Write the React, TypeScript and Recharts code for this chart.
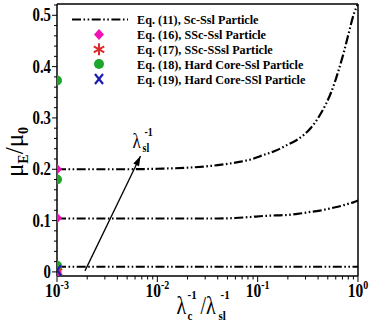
import { ComposedChart, Line, Scatter, XAxis, YAxis } from 'recharts'

// curves (x is log scale)
const curveX = [0.001, 0.002, 0.005, 0.01, 0.02, 0.04, 0.06, 0.085, 0.115, 0.15, 0.2, 0.25, 0.34, 0.43, 0.54, 0.63, 0.72, 0.81, 0.91, 1]
const upperCurve = [0.2, 0.2, 0.2, 0.201, 0.203, 0.208, 0.213, 0.219, 0.228, 0.236, 0.248, 0.258, 0.281, 0.31, 0.35, 0.388, 0.427, 0.466, 0.503, 0.522]
const middleCurve = [0.104, 0.104, 0.104, 0.104, 0.104, 0.104, 0.105, 0.107, 0.109, 0.11, 0.111, 0.113, 0.117, 0.12, 0.124, 0.127, 0.13, 0.133, 0.136, 0.139]
const lowerCurve = [0.01, 0.01, 0.01, 0.01, 0.01, 0.01, 0.01, 0.01, 0.01, 0.01, 0.01, 0.01, 0.01, 0.01, 0.01, 0.01, 0.01, 0.01, 0.01, 0.01]

const markerX = 0.001
const diamondY = [0.2, 0.105, 0.0]
const asteriskY = [0.0]
const circleY = [0.373, 0.18, 0.012]
const crossY = [0.003]

const arrowX = [0.0019, 0.0068]
const arrowY = [0.002, 0.226]

const xMajor = [0.001, 0.01, 0.1, 1]
const xExp = ['-3', '-2', '-1', '0']
const xMinor = [0.002, 0.003, 0.004, 0.005, 0.006, 0.007, 0.008, 0.009, 0.02, 0.03, 0.04, 0.05, 0.06, 0.07, 0.08, 0.09, 0.2, 0.3, 0.4, 0.5, 0.6, 0.7, 0.8, 0.9]
const yMajor = [0, 0.1, 0.2, 0.3, 0.4, 0.5]
const yLabels = ['0', '0.1', '0.2', '0.3', '0.4', '0.5']
const yMinor = [0.02, 0.04, 0.06, 0.08, 0.12, 0.14, 0.16, 0.18, 0.22, 0.24, 0.26, 0.28, 0.32, 0.34, 0.36, 0.38, 0.42, 0.44, 0.46, 0.48, 0.52]

const legendLabels = [
  'Eq. (11), Sc-Ssl Particle',
  'Eq. (16), SSc-Ssl Particle',
  'Eq. (17), SSc-SSsl Particle',
  'Eq. (18), Hard Core-Ssl Particle',
  'Eq. (19), Hard Core-SSl Particle',
]

const SERIF = '"Liberation Serif", "Times New Roman", serif'
const DASH = '9 2.5 1.6 2.5 1.6 2.5'
const MAGENTA = '#f012b4'
const RED = '#dc2a2a'
const GREEN = '#1ea52c'
const BLUE = '#1c1cb0'
const STRETCH = 1.22 // the original figure is a bit taller than wide

const curveData = curveX.map((x, i) => ({ x, upper: upperCurve[i], middle: middleCurve[i], lower: lowerCurve[i] }))
const toPts = (ys: number[]) => ys.map((y) => ({ x: markerX, y }))
const arrowData = arrowX.map((x, i) => ({ x, a: arrowY[i] }))

// text drawn with the vertical stretch of the source image
function T({ x, y, size, bold, anchor, sy, children }: any) {
  return (
    <text
      transform={`translate(${x} ${y}) scale(1 ${sy || STRETCH})`}
      textAnchor={anchor || 'start'}
      fontFamily={SERIF}
      fontWeight={bold ? 'bold' : 'normal'}
      fontSize={size}
      fill="#000"
    >
      {children}
    </text>
  )
}

function Marker({ kind, cx, cy }: { kind: string; cx: number; cy: number }) {
  if (kind === 'diamond')
    return <polygon points={`${cx},${cy - 5.5} ${cx + 5},${cy} ${cx},${cy + 5.5} ${cx - 5},${cy}`} fill={MAGENTA} />
  if (kind === 'circle') return <circle cx={cx} cy={cy} r={5} fill={GREEN} />
  if (kind === 'cross')
    return (
      <g stroke={BLUE} strokeWidth={2.2}>
        <line x1={cx - 4} y1={cy - 5} x2={cx + 4} y2={cy + 5} />
        <line x1={cx + 4} y1={cy - 5} x2={cx - 4} y2={cy + 5} />
      </g>
    )
  // asterisk
  return (
    <g stroke={RED} strokeWidth={2}>
      <line x1={cx} y1={cy - 6} x2={cx} y2={cy + 6} />
      <line x1={cx - 5.2} y1={cy - 3} x2={cx + 5.2} y2={cy + 3} />
      <line x1={cx + 5.2} y1={cy - 3} x2={cx - 5.2} y2={cy + 3} />
    </g>
  )
}

const shape = (kind: string) => (p: any) => <Marker kind={kind} cx={p.cx} cy={p.cy} />

function XTick({ x, y, payload }: any) {
  const i = xMajor.indexOf(payload.value)
  return (
    <g>
      <line x1={x} x2={x} y1={y} y2={y + (i >= 0 ? 6 : 3.5)} stroke="#000" strokeWidth={1} />
      {i >= 0 && (
        <T x={x} y={y + 21} size={15.5} bold anchor="middle">
          10<tspan dy={-6.5} fontSize={10}>{xExp[i]}</tspan>
        </T>
      )}
    </g>
  )
}

function YTick({ x, y, payload }: any) {
  const i = yMajor.indexOf(payload.value)
  return (
    <g>
      <line x1={x} x2={x - (i >= 0 ? 5 : 3)} y1={y} y2={y} stroke="#000" strokeWidth={1} />
      {i >= 0 && (
        <T x={x - 6} y={y + 6} size={14.8} bold anchor="end">
          {yLabels[i]}
        </T>
      )}
    </g>
  )
}

function ArrowHead(props: any) {
  const { cx, cy, index, points } = props
  if (index !== arrowX.length - 1 || !points || !points[index - 1]) return <g key={index} />
  const p = points[index - 1]
  const a = Math.atan2(cy - p.y, cx - p.x)
  const L = 10
  const W = 3.2
  const c = Math.cos(a)
  const s = Math.sin(a)
  const pts = `${cx},${cy} ${cx - L * c + W * s},${cy - L * s - W * c} ${cx - L * c - W * s},${cy - L * s + W * c}`
  return (
    <g key={index}>
      <polygon points={pts} fill="#000" />
      <T x={cx - 8} y={cy - 8} size={17}>λ</T>
      <T x={cx + 2} y={cy - 4} size={10} bold>sl</T>
      <T x={cx + 4} y={cy - 20} size={10} bold>-1</T>
    </g>
  )
}

function XLabel({ viewBox }: any) {
  const cx = viewBox.x + viewBox.width / 2
  const by = 314
  return (
    <g>
      <T x={cx - 31} y={by} size={20}>λ</T>
      <T x={cx - 20} y={by + 6} size={11} bold>c</T>
      <T x={cx - 20} y={by - 15} size={11} bold>-1</T>
      <T x={cx - 7} y={by} size={20}>/λ</T>
      <T x={cx + 11} y={by + 6} size={11} bold>sl</T>
      <T x={cx + 13} y={by - 15} size={11} bold>-1</T>
    </g>
  )
}

function YLabel() {
  const x = 23
  const y = 152
  return (
    <text x={x} y={y} transform={`rotate(-90, ${x}, ${y})`} textAnchor="middle" fontFamily={SERIF} fontSize={25} fill="#000">
      μ<tspan dy={5} fontSize={14} fontWeight="bold">E</tspan>
      <tspan dy={-5}>/μ</tspan>
      <tspan dy={5} fontSize={14} fontWeight="bold">0</tspan>
    </text>
  )
}

function LegendBox() {
  const kinds = ['diamond', 'asterisk', 'circle', 'cross']
  const rowY = [19.5, 34.5, 49.3, 64, 79]
  return (
    <svg width={374} height={100} style={{ position: 'absolute', left: 0, top: 0, pointerEvents: 'none' }}>
      <line x1={72} x2={128} y1={rowY[0]} y2={rowY[0]} stroke="#000" strokeWidth={2} strokeDasharray={DASH} />
      {kinds.map((k, i) => (
        <Marker key={k} kind={k} cx={99} cy={rowY[i + 1]} />
      ))}
      {legendLabels.map((t, i) => (
        <T key={t} x={137} y={rowY[i] + 4.6} size={12.2} sy={1.1} bold>
          {t}
        </T>
      ))}
    </svg>
  )
}

export default function App() {
  return (
    <div style={{ position: 'relative', width: 374, height: 325 }}>
      <style>{'body{margin:0;background:#fff}'}</style>
      <ComposedChart width={374} height={325} margin={{ top: 3, right: 15, bottom: 0, left: 0 }}>
        <XAxis
          dataKey="x"
          type="number"
          scale="log"
          domain={[0.001, 1]}
          allowDataOverflow
          ticks={[...xMajor, ...xMinor]}
          interval={0}
          tick={<XTick />}
          tickLine={false}
          tickSize={0}
          tickMargin={0}
          height={49}
          axisLine={{ stroke: '#000', strokeWidth: 1.5 }}
          label={<XLabel />}
        />
        <XAxis xAxisId="top" orientation="top" type="number" domain={[0, 1]} tick={false} tickLine={false} height={1} axisLine={{ stroke: '#000', strokeWidth: 1.5 }} />
        <YAxis
          type="number"
          domain={[-0.008, 0.522]}
          allowDataOverflow
          ticks={[...yMajor, ...yMinor]}
          interval={0}
          tick={<YTick />}
          tickLine={false}
          tickSize={0}
          tickMargin={0}
          width={57}
          axisLine={{ stroke: '#000', strokeWidth: 1.5 }}
          label={<YLabel />}
        />
        <YAxis yAxisId="right" orientation="right" type="number" domain={[0, 1]} tick={false} tickLine={false} width={1} axisLine={{ stroke: '#000', strokeWidth: 1.5 }} />
        <Line data={curveData} dataKey="upper" type="monotone" stroke="#000" strokeWidth={2.2} strokeDasharray={DASH} dot={false} isAnimationActive={false} />
        <Line data={curveData} dataKey="middle" type="monotone" stroke="#000" strokeWidth={2.2} strokeDasharray={DASH} dot={false} isAnimationActive={false} />
        <Line data={curveData} dataKey="lower" type="monotone" stroke="#000" strokeWidth={2.2} strokeDasharray={DASH} dot={false} isAnimationActive={false} />
        <Line data={arrowData} dataKey="a" type="linear" stroke="#000" strokeWidth={1.3} dot={<ArrowHead />} activeDot={false} isAnimationActive={false} />
        <Scatter data={toPts(circleY)} dataKey="y" shape={shape('circle')} isAnimationActive={false} />
        <Scatter data={toPts(diamondY)} dataKey="y" shape={shape('diamond')} isAnimationActive={false} />
        <Scatter data={toPts(asteriskY)} dataKey="y" shape={shape('asterisk')} isAnimationActive={false} />
        <Scatter data={toPts(crossY)} dataKey="y" shape={shape('cross')} isAnimationActive={false} />
      </ComposedChart>
      <LegendBox />
    </div>
  )
}
